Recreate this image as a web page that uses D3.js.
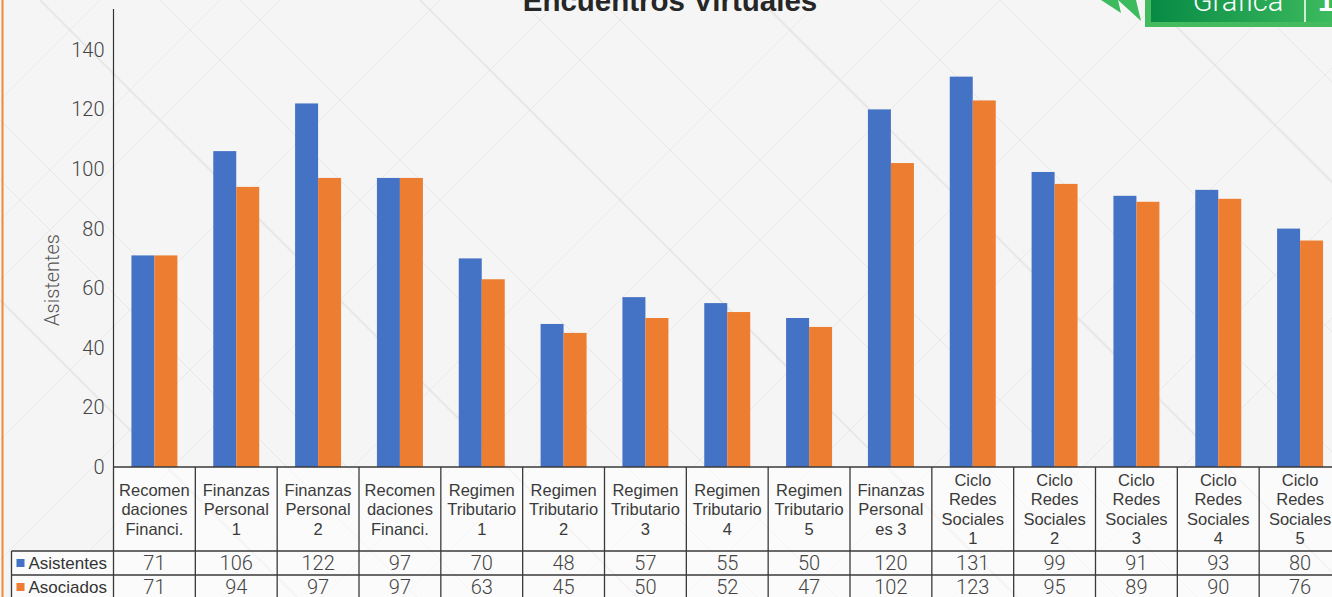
<!DOCTYPE html>
<html>
<head>
<meta charset="utf-8">
<script src="https://cdn.jsdelivr.net/npm/d3@7"></script>
<style>
  html, body { margin: 0; padding: 0; background: #f4f4f4; overflow: hidden; }
  svg { display: block; font-family: "Liberation Sans", Arial, sans-serif; }
</style>
</head>
<body>
<svg id="chart" width="1332" height="597"></svg>
<script>
const categories = [
  ["Recomen", "daciones", "Financi."],
  ["Finanzas", "Personal", "1"],
  ["Finanzas", "Personal", "2"],
  ["Recomen", "daciones", "Financi."],
  ["Regimen", "Tributario", "1"],
  ["Regimen", "Tributario", "2"],
  ["Regimen", "Tributario", "3"],
  ["Regimen", "Tributario", "4"],
  ["Regimen", "Tributario", "5"],
  ["Finanzas", "Personal", "es 3"],
  ["Ciclo", "Redes", "Sociales", "1"],
  ["Ciclo", "Redes", "Sociales", "2"],
  ["Ciclo", "Redes", "Sociales", "3"],
  ["Ciclo", "Redes", "Sociales", "4"],
  ["Ciclo", "Redes", "Sociales", "5"]
];
const asistentes = [71, 106, 122, 97, 70, 48, 57, 55, 50, 120, 131, 99, 91, 93, 80];
const asociados  = [71, 94, 97, 97, 63, 45, 50, 52, 47, 102, 123, 95, 89, 90, 76];
const seriesNames = ["Asistentes", "Asociados"];
const yTicks = [0, 20, 40, 60, 80, 100, 120, 140];
const colors = ["#4472c4", "#ed7d31"];

const svg = d3.select("#chart");
const W = 1332, H = 597;

const plotLeft = 113.5, plotRight = 1341;
const y0 = 467, yTop = 9;
const headerBottom = 551, row1Bottom = 575, row2Bottom = 599;
const legendLeft = 11.5;

// background diagonal pattern
const bg = svg.append("g");
bg.append("rect").attr("width", W).attr("height", H).attr("fill", "#f5f5f5");
const diag = [-300, -180, -120, 40, 160, 240, 420, 520, 600, 760, 880, 1000, 1150, 1250];
diag.forEach((d, i) => {
  bg.append("line")
    .attr("x1", d).attr("y1", 0).attr("x2", d + 700).attr("y2", 700)
    .attr("stroke", "#d6d6d6").attr("stroke-opacity", 0.45).attr("stroke-width", i % 3 == 0 ? 2 : 1);
  bg.append("line")
    .attr("x1", d + 400).attr("y1", 0).attr("x2", d - 300).attr("y2", 700)
    .attr("stroke", "#d6d6d6").attr("stroke-opacity", 0.35).attr("stroke-width", 1);
});

// left orange rule
svg.append("line")
  .attr("x1", 2.5).attr("y1", 0).attr("x2", 2.5).attr("y2", H)
  .attr("stroke", "#f0883a").attr("stroke-width", 2);

const x0 = d3.scaleBand()
  .domain(d3.range(categories.length))
  .range([plotLeft, plotRight])
  .paddingInner(0).paddingOuter(0);

const x1 = d3.scaleBand()
  .domain([0, 1])
  .range([0, x0.bandwidth()])
  .paddingInner(0).paddingOuter(0.78);

const y = d3.scaleLinear().domain([0, (y0 - yTop) / 2.98]).range([y0, yTop]);

// bars
const seriesData = [asistentes, asociados];
seriesData.forEach((vals, s) => {
  svg.append("g").selectAll("rect")
    .data(vals)
    .join("rect")
    .attr("x", (d, i) => x0(i) + x1(s))
    .attr("y", d => y(d))
    .attr("width", x1.bandwidth())
    .attr("height", d => y0 - y(d))
    .attr("fill", colors[s]);
});

// y axis
const yAxis = svg.append("g")
  .attr("transform", `translate(${plotLeft},0)`)
  .call(d3.axisLeft(y).tickValues(yTicks).tickSize(0).tickPadding(9));
yAxis.select(".domain").remove();
yAxis.selectAll("text")
  .attr("font-size", 20).attr("fill", "#444")
  .attr("font-family", "Roboto, sans-serif").attr("font-weight", 300);
svg.append("line")
  .attr("x1", plotLeft).attr("x2", plotLeft).attr("y1", yTop).attr("y2", y0)
  .attr("stroke", "#333").attr("stroke-width", 1.2);

svg.append("text")
  .attr("transform", `translate(59,280) rotate(-90)`)
  .attr("text-anchor", "middle")
  .attr("font-size", 20).attr("fill", "#555")
  .attr("font-family", "Roboto, sans-serif").attr("font-weight", 300)
  .text("Asistentes");

// data table
const table = svg.append("g");
table.append("rect")
  .attr("x", plotLeft).attr("y", y0).attr("width", plotRight - plotLeft).attr("height", row2Bottom - y0)
  .attr("fill", "#fff").attr("fill-opacity", 0.55);
table.append("rect")
  .attr("x", legendLeft).attr("y", headerBottom).attr("width", plotLeft - legendLeft).attr("height", row2Bottom - headerBottom)
  .attr("fill", "#fff").attr("fill-opacity", 0.55);

const lineColor = "#3a3a3a";
function hline(xa, xb, yy) {
  table.append("line").attr("x1", xa).attr("x2", xb).attr("y1", yy).attr("y2", yy)
    .attr("stroke", lineColor).attr("stroke-width", 1.3);
}
function vline(xx, ya, yb) {
  table.append("line").attr("x1", xx).attr("x2", xx).attr("y1", ya).attr("y2", yb)
    .attr("stroke", lineColor).attr("stroke-width", 1.3);
}
hline(plotLeft, plotRight, y0);
hline(legendLeft, plotRight, headerBottom);
hline(legendLeft, plotRight, row1Bottom);
vline(legendLeft, headerBottom, row2Bottom);
vline(plotLeft, y0, row2Bottom);
categories.forEach((c, i) => vline(x0(i) + x0.bandwidth(), y0, row2Bottom));

// header labels
const lh = 19.5;
categories.forEach((lines, i) => {
  const cx = x0(i) + x0.bandwidth() / 2;
  const cy = (y0 + headerBottom) / 2;
  const startY = cy - (lines.length - 1) * lh / 2 + 6;
  const t = table.append("text")
    .attr("text-anchor", "middle")
    .attr("font-size", 16.5).attr("fill", "#3a3a3a")
    .attr("font-family", "Liberation Sans, Arial, sans-serif");
  lines.forEach((ln, k) => {
    t.append("tspan").attr("x", cx).attr("y", startY + k * lh).text(ln);
  });
});

// value rows
const rowMid = [(headerBottom + row1Bottom) / 2, (row1Bottom + row2Bottom) / 2];
seriesData.forEach((vals, s) => {
  table.append("g").selectAll("text")
    .data(vals)
    .join("text")
    .attr("x", (d, i) => x0(i) + x0.bandwidth() / 2)
    .attr("y", rowMid[s] + 7)
    .attr("text-anchor", "middle")
    .attr("font-size", 20).attr("fill", "#444")
    .attr("font-family", "Roboto, sans-serif").attr("font-weight", 300)
    .text(d => d);
  table.append("rect")
    .attr("x", legendLeft + 5).attr("y", rowMid[s] - 4).attr("width", 8).attr("height", 8)
    .attr("fill", colors[s]);
  table.append("text")
    .attr("x", legendLeft + 17).attr("y", rowMid[s] + 6)
    .attr("font-size", 17).attr("fill", "#333")
    .attr("font-family", "Liberation Sans, Arial, sans-serif")
    .text(seriesNames[s]);
});

// title
svg.append("text")
  .attr("x", 670).attr("y", 11)
  .attr("text-anchor", "middle")
  .attr("font-size", 29.5).attr("font-weight", "bold").attr("fill", "#262626")
  .attr("font-family", "Liberation Sans, Arial, sans-serif")
  .text("Encuentros Virtuales");

// badge top right
const defs = svg.append("defs");
const grad = defs.append("linearGradient").attr("id", "gbadge").attr("x1", "0").attr("x2", "1");
grad.append("stop").attr("offset", "0").attr("stop-color", "#078a45");
grad.append("stop").attr("offset", "1").attr("stop-color", "#3dbb5e");
const badge = svg.append("g");
badge.append("polygon").attr("points", "1101,0 1118,0 1121,13").attr("fill", "#3dba5d");
badge.append("polygon").attr("points", "1118,0 1136,0 1141,21").attr("fill", "#3dba5d");
badge.append("rect").attr("x", 1145).attr("y", -2).attr("width", 190).attr("height", 29).attr("fill", "#44bb5f");
badge.append("rect").attr("x", 1151).attr("y", -2).attr("width", 184).attr("height", 24).attr("fill", "url(#gbadge)");
badge.append("text").attr("x", 1238).attr("y", 11).attr("text-anchor", "middle")
  .attr("font-size", 29).attr("fill", "#fff")
  .attr("font-family", "Roboto, sans-serif").attr("font-weight", 300)
  .text("Gráfica");
badge.append("line").attr("x1", 1305).attr("x2", 1305).attr("y1", 0).attr("y2", 22)
  .attr("stroke", "#fff").attr("stroke-width", 1.5);
badge.append("text").attr("x", 1318).attr("y", 11)
  .attr("font-size", 29).attr("fill", "#fff").attr("font-weight", "bold")
  .attr("font-family", "Liberation Sans, Arial, sans-serif")
  .text("1");
</script>
</body>
</html>
